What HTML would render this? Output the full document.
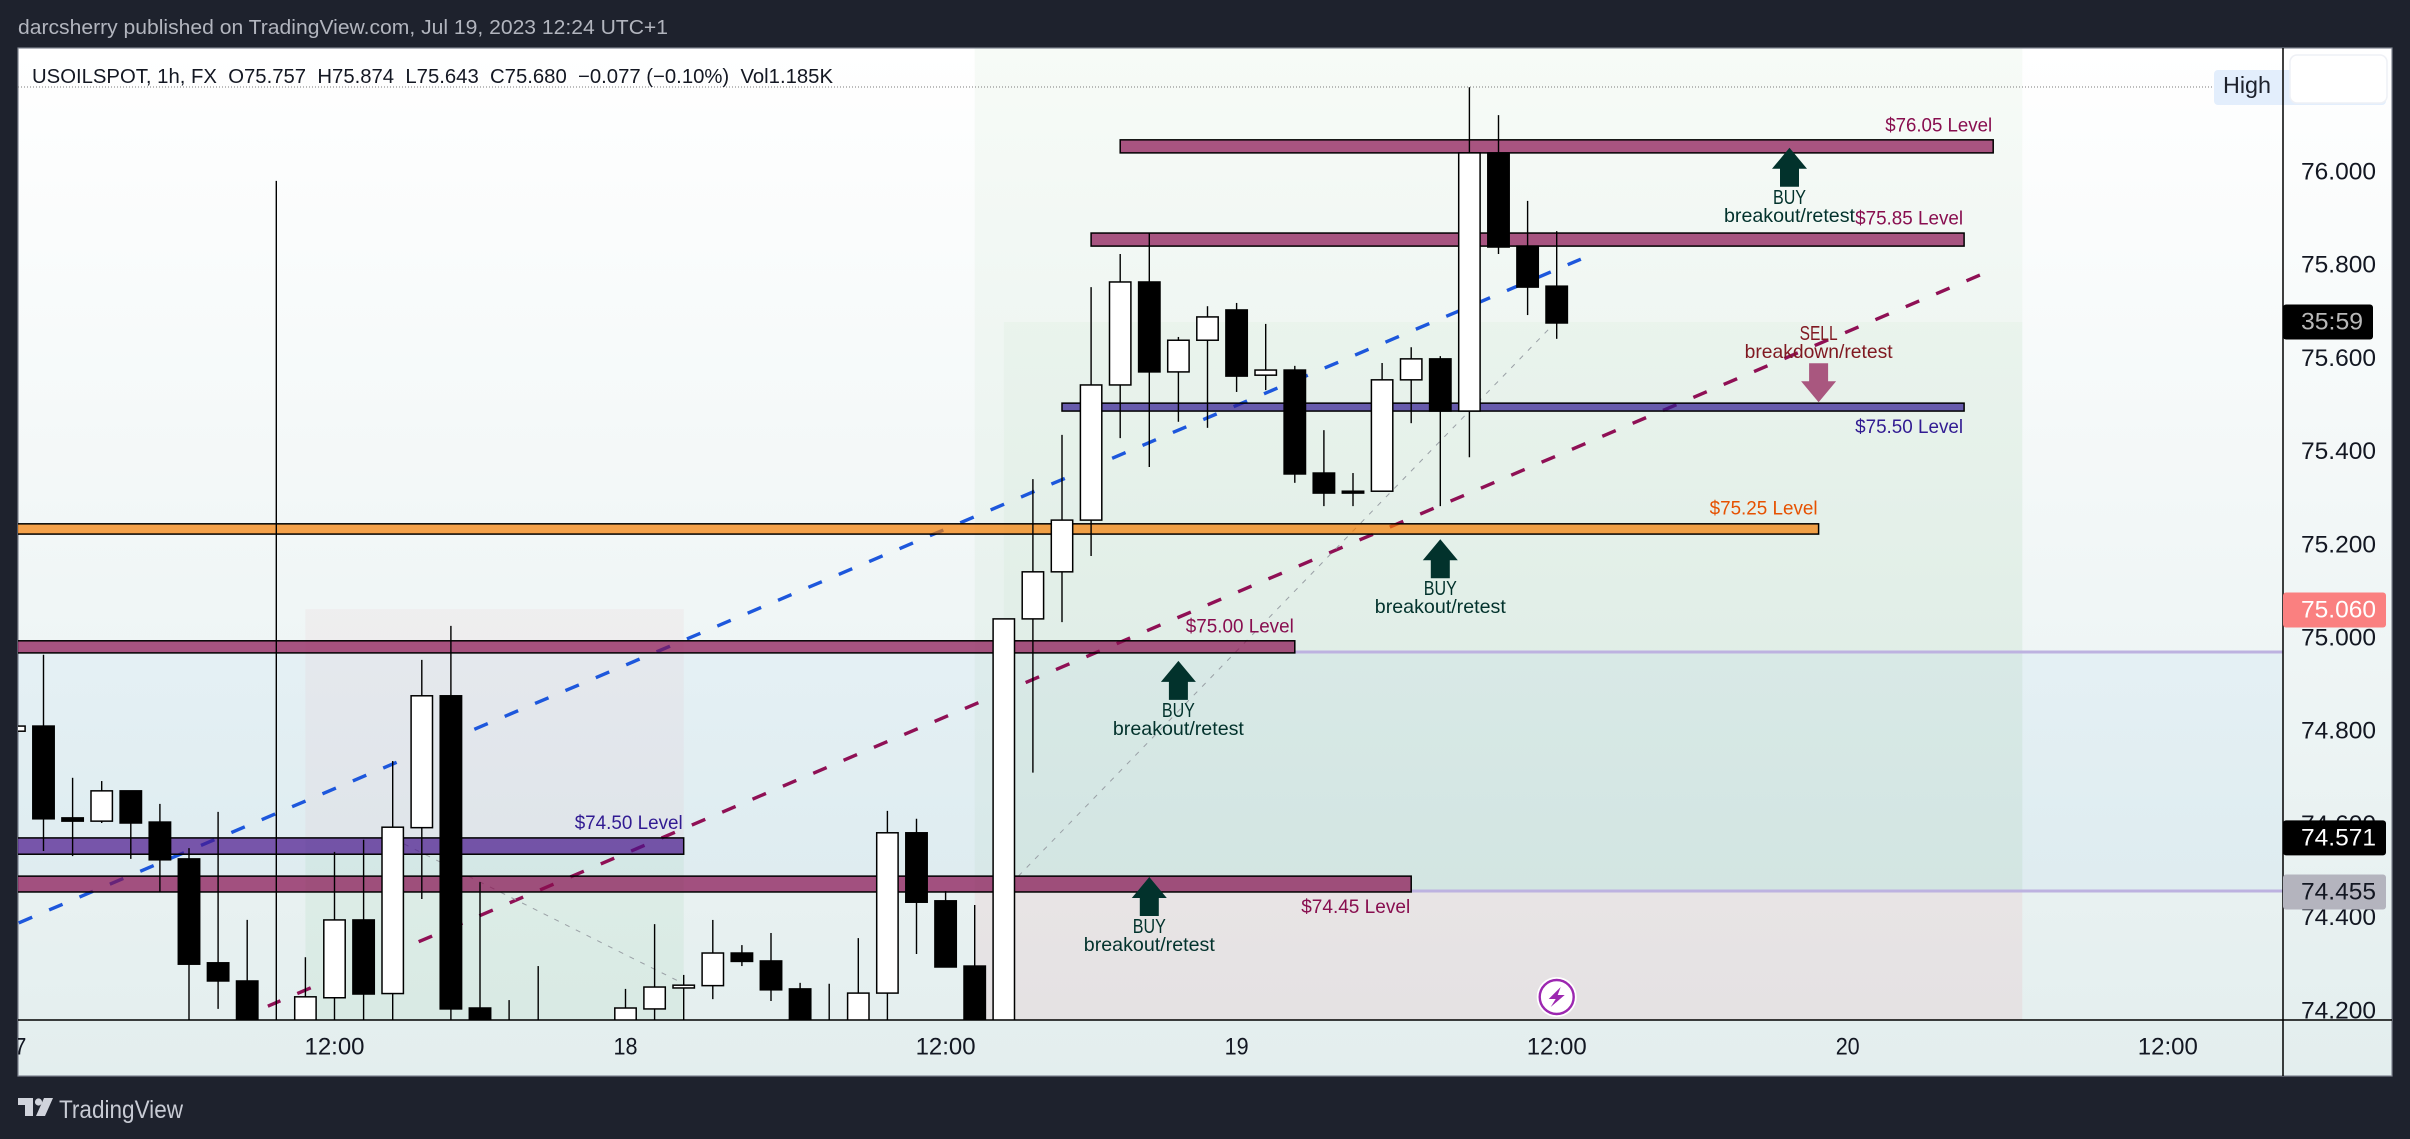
<!DOCTYPE html>
<html lang="en">
<head>
<meta charset="utf-8">
<title>USOILSPOT 1h chart</title>
<style>
html,body{margin:0;padding:0;width:2410px;height:1139px;overflow:hidden;background:#1e222d}
svg{display:block}
text{font-family:"Liberation Sans",sans-serif;white-space:pre}
</style>
</head>
<body>
<svg id="chart" xmlns="http://www.w3.org/2000/svg" width="2410" height="1139" viewBox="0 0 2410 1139">
  <defs>
    <linearGradient id="bgGrad" x1="0" y1="0" x2="0" y2="1">
      <stop offset="0" stop-color="#ffffff"/>
      <stop offset="1" stop-color="#e3eeee"/>
    </linearGradient>
    <clipPath id="plotClip"><rect x="18" y="48" width="2265" height="972"/></clipPath>
    <clipPath id="axisClip"><rect x="2284" y="48" width="108" height="972"/></clipPath>
    <clipPath id="timeClip"><rect x="18" y="1020" width="2265" height="56"/></clipPath>
  </defs>
  <rect x="0" y="0" width="2410" height="1139" fill="#1e222d"/>
  <text x="18" y="34" font-size="20" fill="#b2b5be" textLength="650" lengthAdjust="spacingAndGlyphs">darcsherry published on TradingView.com, Jul 19, 2023 12:24 UTC+1</text>
  <rect x="18" y="48" width="2374" height="1028" fill="url(#bgGrad)" stroke="#7f8490" stroke-width="1.2"/>
  <g id="plot" clip-path="url(#plotClip)"></g>
  <line x1="18" y1="87" x2="2212" y2="87" stroke="#7a7a7a" stroke-width="1" stroke-dasharray="1 2"/>
  <text x="32" y="83" font-size="20" fill="#131722" textLength="801" lengthAdjust="spacingAndGlyphs">USOILSPOT, 1h, FX  O75.757  H75.874  L75.643  C75.680  −0.077 (−0.10%)  Vol1.185K</text>
  <g id="priceAxis"></g>
  <g id="timeAxis" clip-path="url(#timeClip)"></g>
  <line x1="18" y1="1020" x2="2392" y2="1020" stroke="#000" stroke-width="1.5"/>
  <rect x="2214" y="70" width="172" height="35" rx="4" fill="#e3eefc"/>
  <rect x="2290" y="55" width="97" height="48" rx="7" fill="#ffffff" stroke="#eef0f5" stroke-width="1.5"/>
  <text x="2223" y="93" font-size="23" fill="#1e222d" textLength="48" lengthAdjust="spacingAndGlyphs">High</text>
  <line x1="2283" y1="48" x2="2283" y2="1076" stroke="#000" stroke-width="1.5"/>
  <g id="priceTags"></g>
  <g>
    <path d="M18 1098H33V1116H25V1105H18Z M53 1098L45 1116H36L44 1098Z" fill="#d1d4dc"/>
    <circle cx="38.5" cy="1102" r="3.6" fill="#d1d4dc"/>
    <text x="59" y="1118" font-size="25" fill="#c8cbd4" textLength="124" lengthAdjust="spacingAndGlyphs">TradingView</text>
  </g>
</svg>
<script>
// ---- candle data (first bar index is -1) ----
const firstBarIndex = -1;
const opens  = [74.800,74.811,74.614,74.607,74.672,74.605,74.526,74.303,74.264,74.05,74.10,74.228,74.395,74.237,74.593,74.876,74.206,74.15,74.16,74.12,74.14,74.13,74.204,74.249,74.254,74.324,74.307,74.247,74.12,74.15,74.238,74.582,74.436,74.296,74.10,75.041,75.142,75.253,75.543,75.764,75.571,75.639,75.704,75.564,75.575,75.354,75.315,75.315,75.554,75.599,75.487,76.041,75.841,75.755];
const highs  = [74.811,74.964,74.700,74.693,74.672,74.644,74.549,74.627,74.395,75.981,74.315,74.541,74.567,74.736,74.953,75.026,74.476,74.223,74.296,74.17,74.16,74.247,74.386,74.277,74.395,74.341,74.367,74.260,74.258,74.356,74.629,74.612,74.457,74.427,75.041,75.341,75.436,75.753,75.824,75.869,75.646,75.712,75.719,75.674,75.584,75.446,75.354,75.590,75.624,75.605,76.182,76.122,75.938,75.873];
const lows   = [74.800,74.543,74.532,74.603,74.526,74.455,74.10,74.204,74.06,73.98,74.05,74.10,74.10,74.10,74.440,74.10,74.08,74.06,74.05,74.08,74.08,74.08,74.12,74.12,74.225,74.296,74.221,74.09,74.08,74.10,74.10,74.322,74.294,74.08,74.05,74.711,75.034,75.176,75.429,75.367,75.464,75.451,75.528,75.532,75.333,75.283,75.283,75.315,75.461,75.283,75.388,75.824,75.693,75.642];
const closes = [74.811,74.612,74.607,74.672,74.603,74.524,74.300,74.264,74.12,74.12,74.230,74.395,74.236,74.594,74.876,74.204,74.12,74.12,74.10,74.14,74.10,74.206,74.251,74.255,74.324,74.306,74.245,74.13,74.14,74.238,74.582,74.433,74.294,74.12,75.041,75.142,75.253,75.543,75.764,75.571,75.639,75.689,75.562,75.575,75.352,75.311,75.311,75.554,75.599,75.487,76.041,75.839,75.753,75.676];

// ---- axis ticks ----
const priceTicks = ["76.000","75.800","75.600","75.400","75.200","75.000","74.800","74.600","74.400","74.200"];
const timeTickBars = [-1,10,20,31,41,52,62,73];
const timeTickLabels = ["17","12:00","18","12:00","19","12:00","20","12:00"];

// ---- support / resistance level bars ----
const levelNames = ["$76.05 Level","$75.85 Level","$75.50 Level","$75.25 Level","$75.00 Level","$74.50 Level","$74.45 Level"];
const levelTops = [76.069,75.869,75.504,75.245,74.994,74.571,74.489];
const levelBottoms = [76.041,75.841,75.487,75.223,74.968,74.536,74.455];
const levelStartBars = [37,36,35,-3,-3,-3,-3];
const levelEndBars = [67,66,66,61,43,22,47];
const levelLabelPrices = [76.100,75.900,75.453,75.278,75.025,74.603,74.423];

// ---- trend lines (bar index, price) ----
const blueTrendBars = [-0.876,52.83];
const blueTrendPrices = [74.388,75.813];
const maroonTrendBars = [7.71,66.55];
const maroonTrendPrices = [74.210,75.779];

// ---- projection arrows ----
const projectionStartBars = [12.39,33.5];
const projectionStartPrices = [74.558,74.489];
const projectionEndBars = [22,51.87];
const projectionEndPrices = [74.258,75.672];

// ---- position-tool zones ----
const zoneStartBars = [32,33,32,9,9];
const zoneEndBars = [68,68,68,22,22];
const zoneTopPrices = [76.3,75.678,74.455,75.062,74.571];
const zoneBottomPrices = [74.455,74.455,74.0,74.571,74.0];

// ---- alert marker prices ----
const horizontalAlertPrices = [74.970,74.457];
const horizontalAlertStartBars = [43,47];
const buyArrowBars = [39,38,48,60];
const buyArrowPrices = [74.951,74.487,75.212,76.052];
const sellArrowBars = [61];
const sellArrowPrices = [75.506];

// ---- last-price tags ----
const tagTexts = ["35:59","75.060","74.571","74.455"];
const tagPrices = [75.678,75.060,74.571,74.455];

// ---- scales ----
function xScale(bar){ return 43.5 + 29.1 * bar; }
function yScale(price){ return 172 + (76 - price) * 466; }

const NS = 'http://www.w3.org/2000/svg';
function make(parent, tag, attrs){
  const e = document.createElementNS(NS, tag);
  for (const k in attrs) e.setAttribute(k, attrs[k]);
  parent.appendChild(e);
  return e;
}

const plot = document.getElementById('plot');
const priceAxis = document.getElementById('priceAxis');
const timeAxis = document.getElementById('timeAxis');
const priceTags = document.getElementById('priceTags');

// blue band across the whole plot
const band = make(plot,'rect',{x:18,y:yScale(horizontalAlertPrices[0]),width:2265,height:yScale(horizontalAlertPrices[1])-yScale(horizontalAlertPrices[0]),fill:'rgba(33,150,243,0.045)'});



// zones
const zoneFills = ['rgba(76,175,80,0.048)','rgba(76,175,80,0.035)','rgba(242,54,69,0.07)','rgba(242,54,69,0.04)','rgba(76,175,80,0.07)'];
zoneStartBars.forEach(function(s,i){
  const z = make(plot,'rect',{x:xScale(s),y:yScale(zoneTopPrices[i]),width:xScale(zoneEndBars[i])-xScale(s),height:yScale(zoneBottomPrices[i])-yScale(zoneTopPrices[i]),fill:zoneFills[i]});
  
  
});

// horizontal alert lines
horizontalAlertPrices.forEach(function(p,i){
  const l = make(plot,'line',{x1:xScale(horizontalAlertStartBars[i]),x2:2283,y1:yScale(p),y2:yScale(p),stroke:'#bdb2e0','stroke-width':3});
  
  
});

// trend lines
function drawTrend(bars, prices, color, name, phase){
  const l = make(plot,'line',{x1:xScale(bars[0]),y1:yScale(prices[0]),x2:xScale(bars[1]),y2:yScale(prices[1]),stroke:color,'stroke-width':3.4,'stroke-dasharray':'14.6 18.4','stroke-dashoffset':phase});
  
  
}
drawTrend(blueTrendBars, blueTrendPrices, '#1d57dc', 'blue-trend-line', -0.8);
drawTrend(maroonTrendBars, maroonTrendPrices, '#8f1055', 'maroon-trend-line', -32);

// projection arrows
projectionStartBars.forEach(function(s,i){
  const l = make(plot,'line',{x1:xScale(s),y1:yScale(projectionStartPrices[i]),x2:xScale(projectionEndBars[i]),y2:yScale(projectionEndPrices[i]),stroke:'#9aa0a6','stroke-width':1,'stroke-dasharray':'5 7'});
  
  
});

// level bars
const levelFills = ['#880e4f','#880e4f','#311b92','#f57c00','#880e4f','#4a148c','#880e4f'];
const levelTextColors = ['#880e4f','#880e4f','#311b92','#e65100','#880e4f','#311b92','#880e4f'];
levelNames.forEach(function(n,i){
  const r = make(plot,'rect',{x:xScale(levelStartBars[i]),y:yScale(levelTops[i]),width:xScale(levelEndBars[i])-xScale(levelStartBars[i]),height:yScale(levelBottoms[i])-yScale(levelTops[i]),fill:levelFills[i],'fill-opacity':0.7,stroke:'#000','stroke-width':1.5});
  
  
});

// candles
opens.forEach(function(o,i){
  const bar = firstBarIndex + i;
  const x = xScale(bar);
  const c = closes[i];
  const up = c >= o;
  const w = make(plot,'line',{x1:x,x2:x,y1:yScale(highs[i]),y2:yScale(lows[i]),stroke:'#000','stroke-width':1.4});
  
  
  const top = yScale(Math.max(o,c));
  const h = Math.max(1, Math.abs(yScale(o)-yScale(c)));
  const b = make(plot,'rect',{x:x-10.7,y:top,width:21.4,height:h,fill:up?'#ffffff':'#000000',stroke:'#000','stroke-width':1.5});
  
  
});

// text helper
function label(parent, str, x, y, size, color, anchor, len){
  const t = make(parent,'text',{x:x,y:y,'font-size':size,fill:color,'text-anchor':anchor,'dominant-baseline':'central'});
  if (len) { t.setAttribute('textLength', len); t.setAttribute('lengthAdjust', 'spacingAndGlyphs'); }
  t.textContent = str;
  return t;
}

// level labels
const levelLabelWidths = [107,108,108,108,108,108,109];
levelNames.forEach(function(n,i){
  const x = xScale(levelEndBars[i]) - 1;
  const t = label(plot, n, x, yScale(levelLabelPrices[i]), 19.5, levelTextColors[i], 'end', levelLabelWidths[i]);
  
  
});

// buy arrows
buyArrowBars.forEach(function(b,i){
  const x = xScale(b), y = yScale(buyArrowPrices[i]);
  const a = make(plot,'polygon',{points:[[x,y],[x+17.5,y+21],[x+9.5,y+21],[x+9.5,y+39],[x-9.5,y+39],[x-9.5,y+21],[x-17.5,y+21]].join(' '),fill:'#02322c'});
  
  
  const t1 = label(plot,'BUY',x,y+50,20,'#02322c','middle',33);
  
  
  const t2 = label(plot,'breakout/retest',x,y+68,19.5,'#02322c','middle',131);
  
  
});

// sell arrow
sellArrowBars.forEach(function(b,i){
  const x = xScale(b), y = yScale(sellArrowPrices[i]);
  const a = make(plot,'polygon',{points:[[x,y],[x+17.5,y-21],[x+9.5,y-21],[x+9.5,y-39],[x-9.5,y-39],[x-9.5,y-21],[x-17.5,y-21]].join(' '),fill:'#a9577f'});
  
  
  const t1 = label(plot,'SELL',x,y-68,20,'#801922','middle',38);
  
  
  const t2 = label(plot,'breakdown/retest',x,y-50,19.5,'#801922','middle',148);
  
  
});

// lightning icon on the last bar
const iconX = xScale(52);
const iconOuter = make(plot,'circle',{cx:iconX,cy:997,r:20,fill:'#ffffff'});


const iconRing = make(plot,'circle',{cx:iconX,cy:997,r:17,fill:'none',stroke:'#9c27b0','stroke-width':2.4});


const iconBolt = make(plot,'polygon',{points:[[iconX+4,987],[iconX-8,999],[iconX-1,999],[iconX-6,1007],[iconX+8,995],[iconX+1,995]].join(' '),fill:'#9c27b0'});



// price axis ticks
const priceClipGroup = make(priceAxis,'g',{'clip-path':'url(#axisClip)'});
priceTicks.forEach(function(s){
  const t = label(priceClipGroup, s, 2338.5, yScale(parseFloat(s)), 24, '#131722', 'middle', 75);
  
  
});

// time axis ticks
timeTickBars.forEach(function(b,i){
  const s = timeTickLabels[i];
  const t = label(timeAxis, s, xScale(b), 1047, 24, '#131722', 'middle', 12 * s.length);
  
  
});

// price tags
const tagBacks = ['#000000','#fa8080','#000000','#b4b4be'];
const tagColors = ['#b8b8b8','#ffffff','#ffffff','#131722'];
const tagHeights = [35,35,35,35];
const tagWidths = [90,103,103,103];
tagTexts.forEach(function(s,i){
  const y = yScale(tagPrices[i]);
  const r = make(priceTags,'rect',{x:2283,y:y-tagHeights[i]/2,width:tagWidths[i],height:tagHeights[i],rx:3,fill:tagBacks[i]});
  
  
  const t = label(priceTags, s, 2301, y, 24, tagColors[i], 'start', s.length === 5 ? 62 : 75);
  
  
});
</script>
</body>
</html>
